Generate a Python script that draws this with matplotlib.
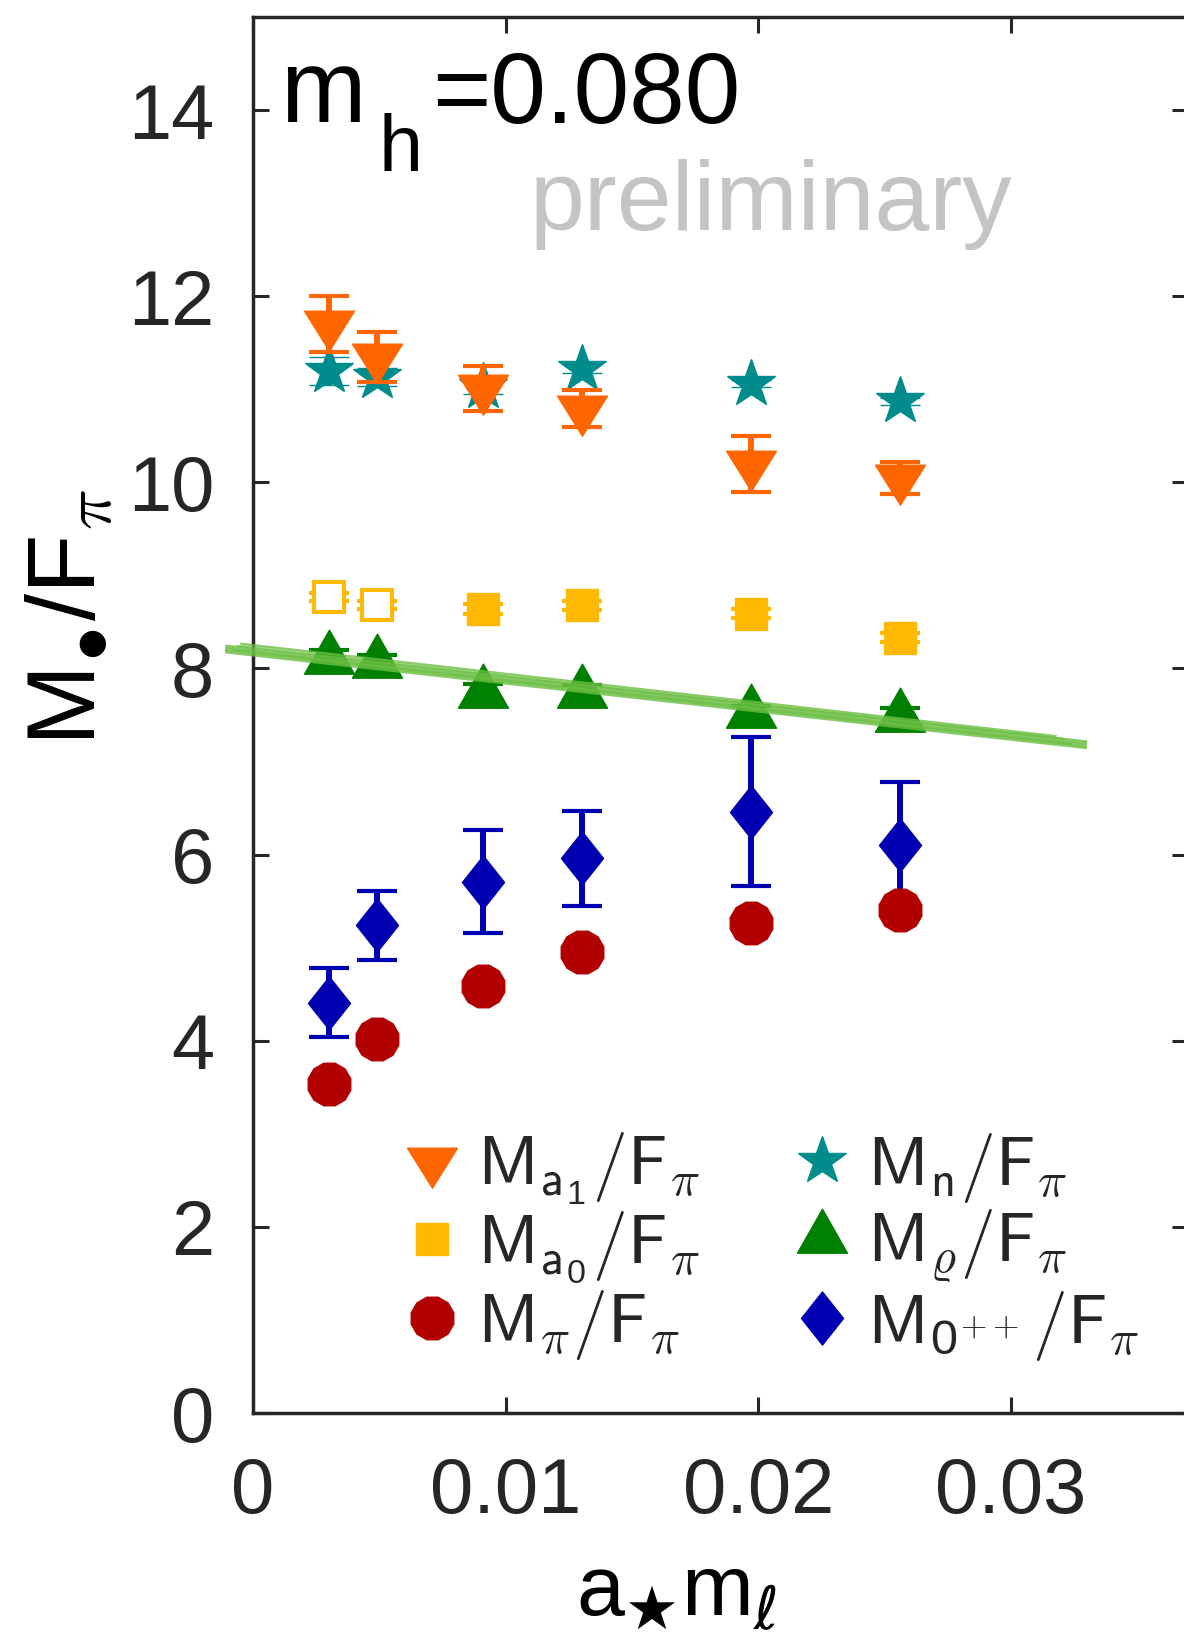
import numpy as np
import matplotlib
matplotlib.use("Agg")
import matplotlib.pyplot as plt
from matplotlib.path import Path
from matplotlib.lines import Line2D
from matplotlib.font_manager import FontProperties

plt.rcParams['font.family'] = ['Liberation Sans', 'DejaVu Sans']
plt.rcParams['mathtext.fontset'] = 'cm'

# data
x = np.array([0.0030, 0.0049, 0.0091, 0.0130, 0.0197, 0.0256])
a1_y = np.array([11.70, 11.35, 11.01, 10.79, 10.20, 10.05])
a1_err = np.array([0.30, 0.27, 0.24, 0.20, 0.30, 0.17])
n_y = np.array([11.20, 11.13, 11.02, 11.22, 11.06, 10.87])
n_err = np.array([0.15, 0.10, 0.07, 0.05, 0.04, 0.04])
a0_y = np.array([8.77, 8.68, 8.64, 8.68, 8.59, 8.33])
a0_err = np.array([0.04, 0.04, 0.05, 0.05, 0.05, 0.05])
a0_open = np.array([True, True, False, False, False, False])
rho_y = np.array([8.10, 8.06, 7.74, 7.74, 7.52, 7.48])
rho_err = np.array([0.10, 0.09, 0.09, 0.08, 0.08, 0.09])
zpp_y = np.array([4.41, 5.24, 5.71, 5.96, 6.46, 6.10])
zpp_err = np.array([0.37, 0.37, 0.55, 0.51, 0.80, 0.68])
pi_y = np.array([3.53, 4.02, 4.59, 4.95, 5.26, 5.40])

fit_x = np.array([-0.0011, 0.0330])
fit_y = np.array([8.22, 7.19])

xticks = [0, 0.01, 0.02, 0.03]
xticklabels = ['0', '0.01', '0.02', '0.03']
yticks = [0, 2, 4, 6, 8, 10, 12, 14]

c_a1 = '#FF6600'
c_n = '#008C8C'
c_a0 = '#FFB900'
c_rho = '#008000'
c_zpp = '#0000B2'
c_pi = '#B20000'
c_fit = '#6CBF43'
dark = '#262626'


def closed(verts):
    return Path(verts + [(0, 0)], closed=True)


m_down = closed([(-25, 13.3), (25, 13.3), (0, -26.7)])
m_up = closed([(-25, -14.7), (25, -14.7), (0, 29.3)])
m_diam = closed([(0, 26.5), (21, 0), (0, -26.5), (-21, 0)])
m_poly = (12, 0, 15)

fig = plt.figure(figsize=(11.84, 16.35), dpi=100)
ax = fig.add_axes([253 / 1184, 1 - 1413 / 1635, 935 / 1184, 1396 / 1635])

eb = dict(elinewidth=4.3, capsize=14.4, capthick=3.0, ls='none')

ax.errorbar(x, n_y, n_err, fmt='*', color=c_n, ms=36, mew=1, zorder=2, **eb)
ax.errorbar(x, a1_y, a1_err, fmt='none', ecolor=c_a1, zorder=3, **eb)
ax.plot(x, a1_y, ls='none', marker=m_down, ms=38.4, color=c_a1, mew=1, zorder=3)
ax.errorbar(x, a0_y, a0_err, fmt='none', ecolor=c_a0, zorder=4, **eb)
ax.plot(x[a0_open], a0_y[a0_open], ls='none', marker='s', ms=22, mfc='white',
        mec=c_a0, mew=2.9, zorder=4)
ax.plot(x[~a0_open], a0_y[~a0_open], ls='none', marker='s', ms=23.5, color=c_a0,
        mew=1, zorder=4)
ax.errorbar(x, rho_y, rho_err, fmt='none', ecolor=c_rho, zorder=5, **eb)
ax.plot(x, rho_y, ls='none', marker=m_up, ms=42.2, color=c_rho, mew=1, zorder=5)

# rough hand-drawn looking fit band
for dy, lw, al, cut in [(0.0, 5.0, 0.85, 0.0), (-0.045, 1.8, 0.8, 0.0),
                        (0.045, 1.8, 0.8, 0.0012), (-0.02, 1.5, 0.7, 0.0006),
                        (0.025, 1.5, 0.7, 0.0009)]:
    ax.plot([fit_x[0] + cut / 2, fit_x[1] - cut],
            [fit_y[0] + dy, fit_y[1] + dy + (fit_y[0] - fit_y[1]) * cut / (fit_x[1] - fit_x[0])],
            color=c_fit, lw=lw, alpha=al, solid_capstyle='butt', clip_on=False, zorder=6)

ax.errorbar(x, zpp_y, zpp_err, fmt='none', ecolor=c_zpp, zorder=7, **eb)
ax.plot(x, zpp_y, ls='none', marker=m_diam, ms=38.2, color=c_zpp, mew=1, zorder=7)
ax.plot(x, pi_y, ls='none', marker=m_poly, ms=31.7, color=c_pi, mew=1, zorder=8)

ax.set_xlim(0, 0.037)
ax.set_ylim(0, 15)
ax.set_xticks(xticks)
ax.set_xticklabels(xticklabels)
ax.set_yticks(yticks)
ax.tick_params(direction='in', length=11.5, width=2.2, color=dark, labelcolor=dark,
               labelsize=56, top=True, right=True)
ax.tick_params(axis='x', pad=31)
ax.tick_params(axis='y', pad=28)
for s in ax.spines.values():
    s.set_linewidth(2.5)
    s.set_color(dark)

ax.set_xlabel(r'$\mathregular{a}_{\bigstar}\mathregular{m}_{\ell}$', fontsize=62,
              color='black', math_fontfamily='dejavusans', ha='center', va='baseline')
ax.xaxis.set_label_coords(0.453, -0.1447)
ax.set_ylabel(r'$\mathregular{M}_{\bullet}\mathregular{/F}_{\pi}$', fontsize=70,
              color='black', ha='center', va='baseline')
ax.yaxis.set_label_coords(-0.169, 0.5695)

fig.text(280 / 1184, 1 - 122 / 1635, 'm', fontsize=74, va='baseline', ha='left')
fig.text(379 / 1184, 1 - 171 / 1635, 'h', fontsize=57, va='baseline', ha='left')
fig.text(432 / 1184, 1 - 123 / 1635, '=0.080', fontsize=72, va='baseline', ha='left')
fig.text(530 / 1184, 1 - 230 / 1635, 'preliminary', fontsize=71, color='#C4C4C4',
         va='baseline', ha='left')

labels = [r'$\mathsf{M}_{\mathsf{a}_\mathregular{1}}/\mathsf{F}_\pi$',
          r'$\mathsf{M}_{\mathsf{a}_\mathregular{0}}/\mathsf{F}_\pi$',
          r'$\mathsf{M}_\pi/\mathsf{F}_\pi$',
          r'$\mathsf{M}_\mathsf{n}/\mathsf{F}_\pi$',
          r'$\mathsf{M}_\varrho/\mathsf{F}_\pi$',
          r'$\mathsf{M}_{\mathregular{0}^{++}}/\mathsf{F}_\pi$']
handles = [Line2D([], [], ls='none', marker=m_down, ms=38.4, color=c_a1),
           Line2D([], [], ls='none', marker='s', ms=23.5, color=c_a0),
           Line2D([], [], ls='none', marker=m_poly, ms=31.7, color=c_pi),
           Line2D([], [], ls='none', marker='*', ms=36, color=c_n),
           Line2D([], [], ls='none', marker=m_up, ms=42.2, color=c_rho),
           Line2D([], [], ls='none', marker=m_diam, ms=38.2, color=c_zpp)]
leg = ax.legend(handles, labels, ncol=2, frameon=False, loc='upper left',
                bbox_to_anchor=(397 / 1184, 1 - 1131 / 1635), bbox_transform=fig.transFigure,
                prop=FontProperties(family='Liberation Sans', size=50, math_fontfamily='cm'),
                handlelength=1.0, handletextpad=0.15, columnspacing=1.26,
                labelspacing=0.04, borderpad=0, borderaxespad=0)
for t in leg.get_texts():
    t.set_color(dark)

fig.savefig('out.png', dpi=100)
